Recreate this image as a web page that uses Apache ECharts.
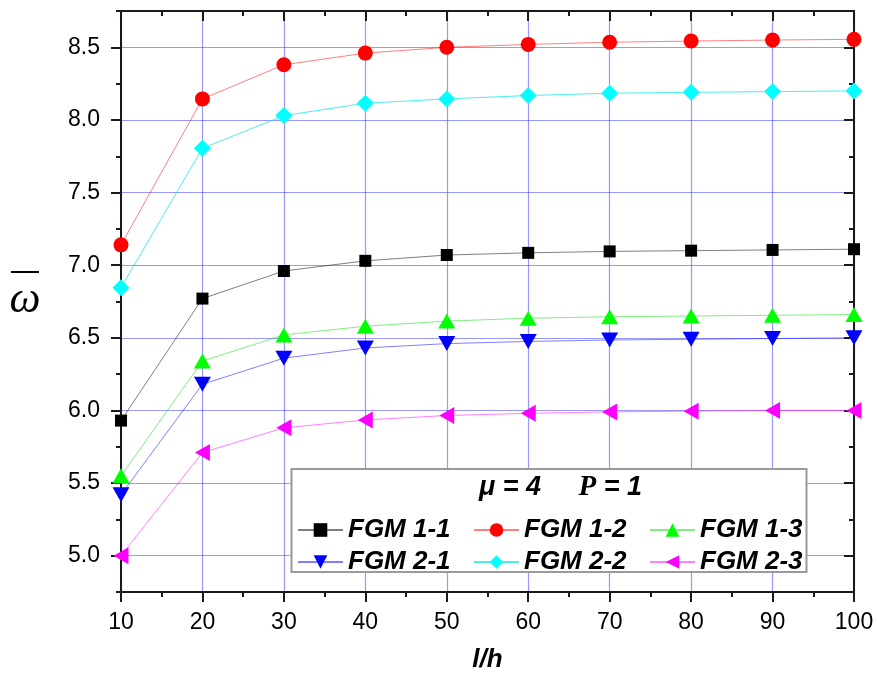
<!DOCTYPE html>
<html>
<head>
<meta charset="utf-8">
<script src="https://cdn.jsdelivr.net/npm/echarts@6/dist/echarts.min.js"></script>
<style>
  body { margin: 0; background: #fff; }
  #chart { width: 877px; height: 682px; }
</style>
</head>
<body>
<div id="chart"></div>
<script>
// l/h values on the x axis
const lh = [10, 20, 30, 40, 50, 60, 70, 80, 90, 100];

// non-dimensional frequency
const fgm11 = [5.93, 6.77, 6.96, 7.03, 7.07, 7.085, 7.095, 7.10, 7.105, 7.11];
const fgm12 = [7.14, 8.145, 8.38, 8.46, 8.50, 8.52, 8.535, 8.543, 8.55, 8.555];
const fgm13 = [5.55, 6.34, 6.52, 6.58, 6.615, 6.635, 6.645, 6.65, 6.655, 6.66];
const fgm21 = [5.42, 6.18, 6.36, 6.43, 6.46, 6.475, 6.485, 6.49, 6.495, 6.50];
const fgm22 = [6.845, 7.805, 8.03, 8.115, 8.145, 8.168, 8.184, 8.19, 8.195, 8.20];
const fgm23 = [5.00, 5.71, 5.88, 5.935, 5.965, 5.98, 5.99, 5.995, 6.0, 6.0];

// y ticks
const yMajor = [5.0, 5.5, 6.0, 6.5, 7.0, 7.5, 8.0, 8.5];
const yMinor = [4.75, 5.25, 5.75, 6.25, 6.75, 7.25, 7.75, 8.25, 8.75];

const chart = echarts.init(document.getElementById("chart"));

const axisColor = "#1a1a1a";
const gridBlue = "rgba(50,50,255,0.5)";
const labelFont = { fontFamily: "Liberation Sans", fontSize: 23, color: "#000" };
const legendFont = {
  fontFamily: "Liberation Sans",
  fontSize: 26,
  fontWeight: "bold",
  fontStyle: "italic",
  color: "#000",
  lineHeight: 25,
};

function serie(name, vals, symbol, size, rotate, color, lineColor) {
  return {
    name: name,
    type: "line",
    data: lh.map((x, i) => [x, vals[i]]),
    symbol: symbol,
    symbolSize: size,
    symbolRotate: rotate,
    showAllSymbol: true,
    itemStyle: { color: color, opacity: 1 },
    lineStyle: { color: lineColor, width: 1 },
    emphasis: { disabled: true },
    z: 3,
  };
}

function yAx(position, values, len, inside, opts) {
  return Object.assign({
    type: "value",
    position: position,
    min: 4.75,
    max: 8.75,
    interval: 0.25,
    axisLine: { show: false },
    axisTick: { show: true, customValues: values, length: len, inside: inside,
      lineStyle: { color: axisColor, width: 2 } },
    axisLabel: { show: false },
    splitLine: { show: false },
  }, opts || {});
}

function legendCol(names, left) {
  return {
    data: names,
    orient: "vertical",
    left: left,
    top: 512,
    itemWidth: 45,
    itemHeight: 17,
    itemGap: 6,
    textStyle: legendFont,
    z: 6,
  };
}

chart.setOption({
  animation: false,
  backgroundColor: "#fff",
  grid: { left: 121, right: 23, top: 11, bottom: 90 },
  xAxis: [
    {
      type: "value",
      position: "bottom",
      min: 10,
      max: 100,
      interval: 10,
      name: "l/h",
      nameLocation: "middle",
      nameGap: 55,
      nameTextStyle: {
        fontFamily: "Liberation Sans",
        fontSize: 26,
        fontWeight: "bold",
        fontStyle: "italic",
        color: "#000",
      },
      axisLine: { show: true, onZero: false, lineStyle: { color: axisColor, width: 2 } },
      axisTick: { show: true, length: 10, lineStyle: { color: axisColor, width: 2 } },
      minorTick: { show: true, splitNumber: 2, length: 5, lineStyle: { color: axisColor, width: 2 } },
      axisLabel: Object.assign({ margin: 19 }, labelFont),
      splitLine: { show: true, lineStyle: { color: gridBlue, width: 1.2 } },
    },
    {
      type: "value",
      position: "top",
      min: 10,
      max: 100,
      interval: 10,
      axisLine: { show: true, onZero: false, lineStyle: { color: axisColor, width: 2 } },
      axisTick: { show: true, inside: true, length: 10, lineStyle: { color: axisColor, width: 2 } },
      minorTick: { show: true, splitNumber: 2, length: 5, lineStyle: { color: axisColor, width: 2 } },
      axisLabel: { show: false },
      splitLine: { show: false },
    },
  ],
  yAxis: [
    yAx("left", yMajor, 10, false, {
      axisLine: { show: true, onZero: false, lineStyle: { color: axisColor, width: 2 } },
      axisLabel: Object.assign({
        show: true,
        margin: 21,
        customValues: yMajor,
        formatter: (v) => v.toFixed(1),
      }, labelFont),
      splitLine: { show: true, lineStyle: { color: gridBlue, width: 1.2 } },
    }),
    yAx("left", yMinor, 5, false),
    yAx("right", yMajor, 10, true, {
      axisLine: { show: true, onZero: false, lineStyle: { color: axisColor, width: 2 } },
    }),
    yAx("right", yMinor, 5, true),
  ],
  legend: [
    legendCol(["FGM 1-1", "FGM 2-1"], 292),
    legendCol(["FGM 1-2", "FGM 2-2"], 468),
    legendCol(["FGM 1-3", "FGM 2-3"], 644),
  ],
  graphic: [
    {
      type: "rect",
      shape: { x: 291.5, y: 469, width: 515, height: 103 },
      style: { fill: "#fff", stroke: "#9a9a9a", lineWidth: 2 },
      z: 4,
    },
    {
      type: "text",
      x: 479,
      y: 488,
      z: 6,
      style: {
        text: "{a|μ = 4}{s|     }{p|P}{a| = 1}",
        verticalAlign: "middle",
        rich: {
          a: { fontFamily: "Liberation Sans", fontSize: 27, fontWeight: "bold", fontStyle: "italic", fill: "#000" },
          s: { fontFamily: "Liberation Sans", fontSize: 27 },
          p: { fontFamily: "Liberation Serif", fontSize: 29, fontWeight: "bold", fontStyle: "italic", fill: "#000" },
        },
      },
    },
    {
      type: "line",
      shape: { x1: 11, y1: 272, x2: 39, y2: 272 },
      style: { stroke: "#000", lineWidth: 2 },
    },
    {
      type: "text",
      x: 25,
      y: 300,
      style: {
        text: "ω",
        align: "center",
        verticalAlign: "middle",
        fontFamily: "Liberation Serif",
        fontSize: 44,
        fontStyle: "italic",
        fill: "#000",
      },
    },
  ],
  series: [
    serie("FGM 1-1", fgm11, "rect", 12, 0, "#000", "rgba(0,0,0,0.5)"),
    serie("FGM 1-2", fgm12, "circle", 15, 0, "#ff0000", "rgba(255,0,0,0.5)"),
    serie("FGM 1-3", fgm13, "triangle", [17, 15], 0, "#00ff00", "rgba(0,220,0,0.5)"),
    serie("FGM 2-1", fgm21, "triangle", [17, 15], 180, "#0000ff", "rgba(0,0,255,0.5)"),
    serie("FGM 2-2", fgm22, "diamond", [17, 17], 0, "#00ffff", "rgba(0,230,230,0.7)"),
    serie("FGM 2-3", fgm23, "triangle", [17, 15], 90, "#ff00ff", "rgba(255,0,255,0.5)"),
  ],
});
</script>
</body>
</html>
